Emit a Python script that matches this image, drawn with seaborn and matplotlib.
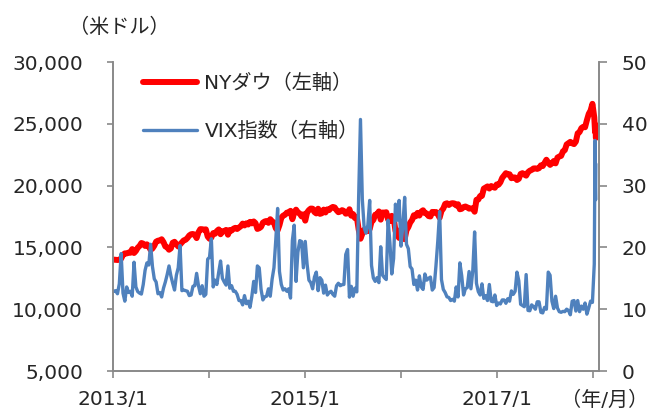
import pandas as pd
import matplotlib
matplotlib.use("Agg")
import matplotlib.pyplot as plt
import matplotlib.dates as mdates
from matplotlib.ticker import FixedLocator, FixedFormatter, FuncFormatter
import seaborn as sns

sns.set_style("white")
plt.rcParams['font.family'] = ['DejaVu Sans', 'Noto Sans CJK JP']

# ---- data (weekly, as placed on the chart's date axis) ----
weekly_start = "2013-01-04"
tail_start = "2018-01-08"   # last few daily points

dow_2013 = [14009, 13993, 13982, 14000, 14090, 14397, 14515, 14512, 14579, 14565, 14865, 14548,
            14712, 14974, 15118, 15354, 15303, 15116, 15248, 15071, 14800, 14910, 15136, 15464,
            15544, 15559, 15659, 15425, 15081, 15010, 14810, 14922, 15376, 15452, 15258, 15073,
            15237, 15400, 15570, 15615, 15762, 15962, 16065, 16086, 16020, 15755, 16221, 16479]
dow_2014 = [16470, 16437, 16459, 15880, 15699, 15794, 16154, 16103, 16322, 16453, 16065, 16303,
            16323, 16412, 16027, 16409, 16361, 16513, 16583, 16491, 16606, 16717, 16924, 16776,
            16948, 16851, 17068, 16944, 17100, 16961, 16493, 16553, 16663, 17001, 17098, 17137,
            16988, 17280, 17113, 17009, 16544, 16380, 16805, 17391, 17573, 17635, 17810, 17828,
            17959, 17281, 17805, 18053]
dow_2015 = [17833, 17737, 17511, 17673, 17165, 17825, 18019, 18141, 18133, 17857, 17749, 18128,
            17713, 17763, 18058, 17826, 18080, 18024, 18191, 18273, 18232, 18011, 17849, 17899,
            18015, 17947, 17730, 17760, 18086, 17568, 17690, 17373, 17477, 16460, 15700, 16102,
            16433, 16385, 16315, 16472, 17084, 17216, 17647, 17664, 17910, 17245, 17824, 17799,
            17848, 17265, 17128, 17553, 17425]
dow_2016 = [16347, 15988, 15766, 16466, 16205, 15660, 16392, 16640, 17007, 17213, 17602, 17516,
            17793, 17577, 17898, 18004, 17774, 17741, 17535, 17501, 17873, 17807, 17865, 17675,
            17400, 17949, 18147, 18517, 18571, 18432, 18543, 18577, 18553, 18395, 18492, 18085,
            18124, 18262, 18308, 18240, 18138, 18146, 18161, 17888, 18848, 18868, 19153, 19171,
            19757, 19843, 19934, 19763]
dow_2017 = [19964, 19886, 19827, 20094, 20071, 20269, 20624, 20822, 21006, 20903, 20915, 20597,
            20663, 20656, 20453, 20548, 20941, 21007, 20897, 20805, 21080, 21206, 21272, 21384,
            21395, 21350, 21414, 21638, 21580, 21830, 22093, 21858, 21675, 21814, 21988, 21798,
            22268, 22350, 22405, 22774, 22871, 23329, 23434, 23539, 23422, 23358, 23558, 24232,
            24329, 24652, 24754, 24719]
dow_2018 = [25296, 25803, 26072, 26617, 25521]
dow_tail = [24346, 24913, 24893, 23860]

vix_2013 = [12.9, 13.0, 12.5, 14.1, 19.0, 12.6, 11.3, 13.6, 12.7, 12.9, 12.1, 17.6,
            13.6, 12.85, 12.6, 12.45, 14.0, 16.3, 17.5, 17.15, 20.5, 16.9, 14.9, 14.4,
            12.5, 12.7, 11.98, 13.4, 14.4, 15.6, 17.0, 15.4, 14.2, 13.1, 15.5, 16.7,
            20.3, 13.0, 13.1, 13.0, 12.9, 12.2, 12.3, 13.7, 13.8, 15.8, 13.8, 12.5]
vix_2014 = [13.8, 12.1, 12.4, 18.1, 18.4, 21.4, 13.6, 14.7, 14.0, 16.0, 17.8, 15.0,
            14.4, 13.9, 17.0, 13.4, 13.8, 12.9, 12.9, 12.4, 11.4, 11.4, 10.7, 12.2,
            10.9, 11.3, 10.3, 12.1, 14.5, 12.7, 17.0, 16.7, 13.2, 11.5, 12.0, 12.1,
            13.3, 12.1, 14.85, 16.7, 21.2, 26.3, 16.1, 14.0, 13.1, 13.3, 12.9, 13.3,
            11.8, 21.1, 23.6, 14.5]
vix_2015 = [19.2, 21.1, 20.95, 16.7, 20.97, 17.3, 14.7, 14.3, 13.3, 15.2, 16.0, 13.0,
            15.1, 14.7, 12.6, 13.9, 12.3, 12.7, 12.9, 12.4, 12.1, 13.8, 14.2, 13.8,
            13.96, 14.0, 18.85, 19.66, 11.95, 13.7, 12.1, 13.4, 12.8, 28.0, 40.7, 27.8,
            23.2, 22.3, 23.6, 27.6, 17.1, 15.05, 14.5, 15.1, 14.3, 20.1, 15.5, 15.1,
            14.8, 24.4, 20.7, 15.7, 18.2]
vix_2016 = [27.0, 24.4, 27.6, 20.2, 23.4, 28.1, 20.5, 19.8, 16.9, 16.5, 14.0, 14.7,
            13.1, 15.4, 13.6, 13.2, 15.7, 14.7, 15.0, 15.2, 13.1, 13.5, 17.0, 21.0,
            25.8, 14.8, 13.2, 12.7, 12.0, 11.9, 11.4, 11.6, 11.3, 13.6, 11.98, 17.5,
            15.4, 12.3, 13.3, 13.5, 16.1, 13.3, 16.2, 22.5, 14.2, 12.85, 12.3, 14.1,
            11.75, 12.2, 11.4, 14.0]
vix_2017 = [11.3, 11.2, 12.3, 10.6, 11.0, 10.85, 11.5, 11.5, 10.96, 11.7, 11.3, 12.96,
            12.4, 12.9, 16.0, 14.6, 10.8, 10.6, 10.4, 15.6, 9.8, 9.75, 10.7, 10.4,
            10.0, 11.2, 11.2, 9.5, 9.4, 10.3, 10.0, 16.0, 15.5, 11.3, 10.1, 12.1,
            10.2, 9.6, 9.5, 9.65, 9.6, 10.0, 9.8, 9.1, 11.3, 11.4, 9.7, 11.4,
            9.6, 10.5, 10.0, 11.0]
vix_2018 = [9.2, 10.2, 11.3, 11.1, 17.3]
vix_tail = [37.3, 30.0, 27.7, 33.5]

left_ticks = [5000, 10000, 15000, 20000, 25000, 30000]
right_ticks = [0, 10, 20, 30, 40, 50]
year_ticks = ["2013-01-01", "2014-01-01", "2015-01-01", "2016-01-01", "2017-01-01", "2018-01-01"]
year_labels = ["2013/1", "", "2015/1", "", "2017/1", ""]
x_range = ["2013-01-01", "2018-01-23"]

label_dow = "NYダウ（左軸）"
label_vix = "VIX指数（右軸）"
unit_left = "（米ドル）"
unit_x = "（年/月）"

# ---- build frames ----
def build(weekly, tail, name):
    d1 = pd.date_range(weekly_start, periods=len(weekly), freq="7D")
    d2 = pd.date_range(tail_start, periods=len(tail), freq="D")
    return pd.DataFrame({"date": list(d1) + list(d2), name: weekly + tail})

dow_df = build(dow_2013 + dow_2014 + dow_2015 + dow_2016 + dow_2017 + dow_2018, dow_tail, "dow")
vix_df = build(vix_2013 + vix_2014 + vix_2015 + vix_2016 + vix_2017 + vix_2018, vix_tail, "vix")

RED = "#FF0000"
BLUE = "#4F81BD"
GRAY = "#898989"

fig = plt.figure(figsize=(6.53, 4.11), dpi=100)
ax = fig.add_axes([113 / 653, 1 - 371 / 411, (599 - 113) / 653, (371 - 62) / 411])
ax2 = ax.twinx()

sns.lineplot(data=dow_df, x="date", y="dow", ax=ax, color=RED, linewidth=4.3,
             solid_capstyle="round", solid_joinstyle="round", legend=False)
sns.lineplot(data=vix_df, x="date", y="vix", ax=ax2, color=BLUE, linewidth=2.4,
             solid_joinstyle="round", legend=False)

ax.set_xlim(pd.Timestamp(x_range[0]), pd.Timestamp(x_range[1]))
ax.set_ylim(left_ticks[0], left_ticks[-1])
ax2.set_ylim(right_ticks[0], right_ticks[-1])

ax.xaxis.set_major_locator(FixedLocator([mdates.date2num(pd.Timestamp(t)) for t in year_ticks]))
ax.xaxis.set_major_formatter(FixedFormatter(year_labels))
ax.yaxis.set_major_locator(FixedLocator(left_ticks))
ax.yaxis.set_major_formatter(FuncFormatter(lambda v, p: f"{int(v):,}"))
ax2.yaxis.set_major_locator(FixedLocator(right_ticks))

for a in (ax, ax2):
    a.set_xlabel("")
    a.set_ylabel("")
    a.spines["top"].set_visible(False)
    for s in ("left", "right", "bottom"):
        a.spines[s].set_color(GRAY)
        a.spines[s].set_linewidth(1.2)

ax.tick_params(axis="y", which="major", direction="out", length=4.5, width=1.2, color=GRAY,
               labelsize=14.5, pad=17, left=True, right=False)
ax.tick_params(axis="x", which="major", direction="out", length=5, width=1.2, color=GRAY,
               labelsize=14.5, pad=9, bottom=True)
ax2.tick_params(axis="y", which="major", direction="out", length=5.5, width=1.2, color=GRAY,
                labelsize=14.5, pad=11, right=True, left=False)

# legend
h1 = ax.get_lines()[0]
h2 = ax2.get_lines()[0]
ax2.legend([h1, h2], [label_dow, label_vix], loc="upper left",
           bbox_to_anchor=(143 / 653, 1 - 74 / 411), bbox_transform=fig.transFigure,
           frameon=False, fontsize=14.5, handlelength=2.7, handletextpad=0.35,
           labelspacing=1.4, borderpad=0, borderaxespad=0)

fig.text(119 / 653, 1 - 27 / 411, unit_left, fontsize=14.5, ha="center", va="center")
fig.text(605 / 653, 1 - 400 / 411, unit_x, fontsize=14.5, ha="center", va="center")

fig.savefig("out.png", dpi=100)
